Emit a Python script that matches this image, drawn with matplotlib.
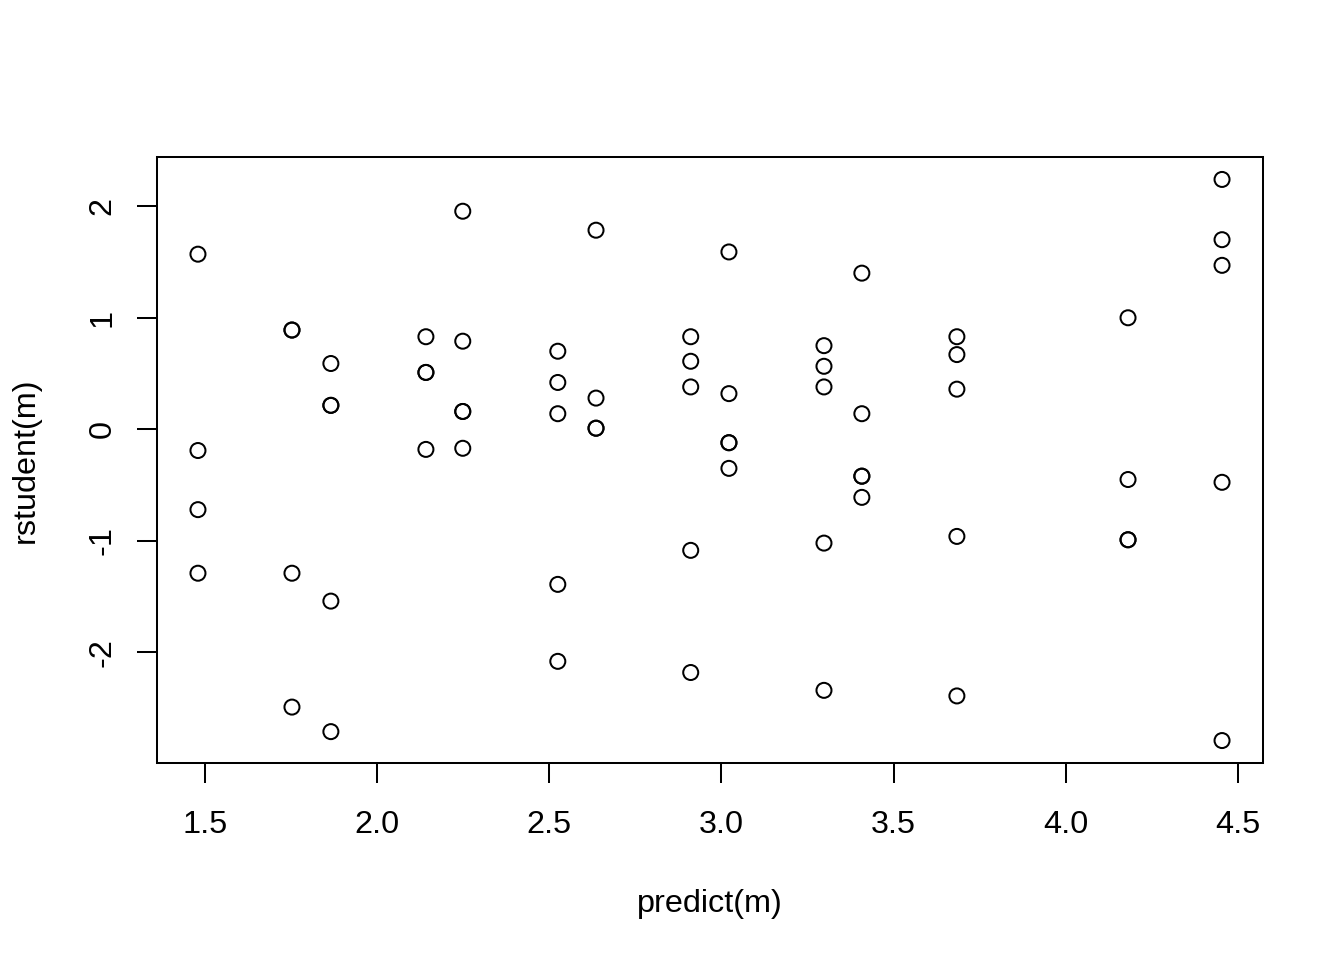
import numpy as np
import matplotlib
matplotlib.use("Agg")
import matplotlib.pyplot as plt

plt.rcParams['font.family'] = ['Liberation Sans', 'DejaVu Sans']

# fitted values (predict) and studentized residuals
predicted = [
    1.48, 1.48, 1.48, 1.48,
    1.753, 1.753, 1.753, 1.753,
    1.866, 1.866, 1.866, 1.866, 1.866,
    2.142, 2.142, 2.142, 2.142,
    2.249, 2.249, 2.249, 2.249, 2.249,
    2.525, 2.525, 2.525, 2.525, 2.525,
    2.636, 2.636, 2.636, 2.636,
    2.911, 2.911, 2.911, 2.911, 2.911,
    3.022, 3.022, 3.022, 3.022, 3.022,
    3.298, 3.298, 3.298, 3.298, 3.298,
    3.408, 3.408, 3.408, 3.408, 3.408,
    3.684, 3.684, 3.684, 3.684, 3.684,
    4.181, 4.181, 4.181, 4.181,
    4.454, 4.454, 4.454, 4.454, 4.454,
]
rstudent = [
    1.57, -0.19, -0.72, -1.29,
    0.89, 0.89, -1.29, -2.49,
    0.59, 0.215, 0.215, -1.54, -2.71,
    0.83, 0.51, 0.51, -0.18,
    1.955, 0.79, 0.16, 0.16, -0.17,
    0.70, 0.42, 0.14, -1.39, -2.08,
    1.785, 0.28, 0.01, 0.01,
    0.83, 0.61, 0.38, -1.085, -2.18,
    1.59, 0.32, -0.12, -0.12, -0.35,
    0.75, 0.565, 0.38, -1.02, -2.34,
    1.40, 0.14, -0.42, -0.42, -0.61,
    0.83, 0.67, 0.36, -0.96, -2.39,
    1.00, -0.45, -0.99, -0.99,
    2.24, 1.70, 1.47, -0.475, -2.79,
]
x_ticks = [1.5, 2.0, 2.5, 3.0, 3.5, 4.0, 4.5]
y_ticks = [-2, -1, 0, 1, 2]

fig = plt.figure(figsize=(13.44, 9.6), dpi=100)
ax = fig.add_axes([157/1344, 1 - 763/960, (1263 - 157)/1344, (763 - 157)/960])

ax.scatter(predicted, rstudent, s=10.8**2, facecolors='none',
           edgecolors='black', linewidths=1.45)

# R style 4% range padding
def pad(v):
    lo, hi = min(v), max(v)
    d = (hi - lo) * 0.04
    return lo - d, hi + d

ax.set_xlim(*pad(predicted))
ax.set_ylim(*pad(rstudent))

ax.set_xticks(x_ticks)
ax.set_xticklabels([f"{t:.1f}" for t in x_ticks])
ax.set_yticks(y_ticks)
ax.set_yticklabels([str(t) for t in y_ticks], rotation=90, va='center')

ax.tick_params(direction='out', length=14.4, width=1.45, labelsize=23.3)
ax.tick_params(axis='x', pad=19.5)
ax.tick_params(axis='y', pad=14)
for s in ax.spines.values():
    s.set_linewidth(1.45)

ax.set_xlabel("predict(m)", fontsize=23.3, labelpad=35)
ax.set_ylabel("rstudent(m)", fontsize=23.3, labelpad=34)

fig.savefig("out.png", dpi=100)
